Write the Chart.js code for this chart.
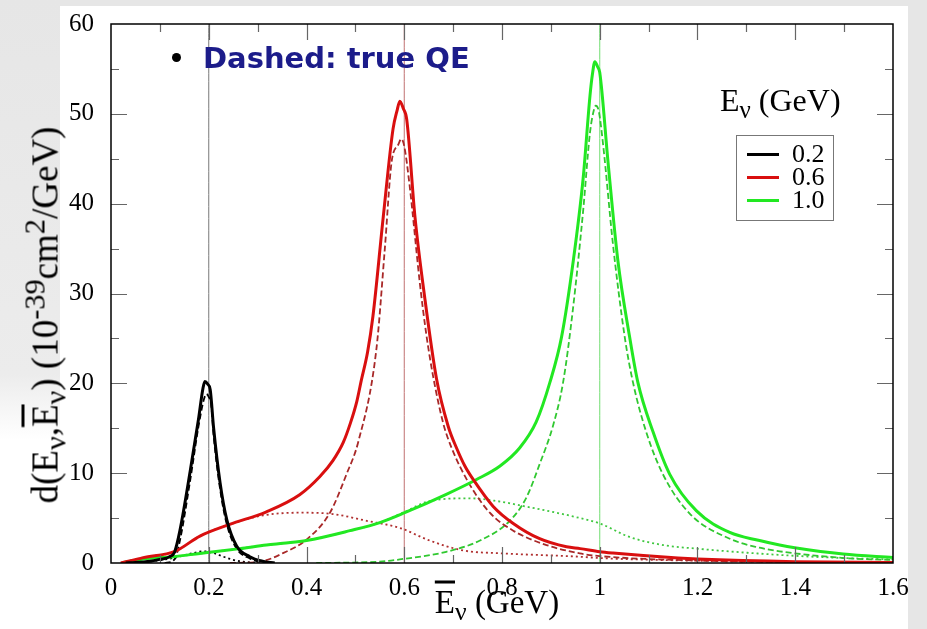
<!DOCTYPE html>
<html>
<head>
<meta charset="utf-8">
<script src="https://cdn.jsdelivr.net/npm/chart.js@4.4.1/dist/chart.umd.min.js"></script>
<style>
  html, body { margin: 0; padding: 0; }
  body { width: 927px; height: 629px; background: #e6e6e6; position: relative; overflow: hidden; font-family: 'Liberation Serif', 'DejaVu Serif', serif; }
  #panel { position: absolute; left: 0; top: 6px; width: 908px; height: 623px; background: #fff; }
  #shade { position: absolute; left: 0; top: 0; width: 60px; height: 440px; background: linear-gradient(to bottom, #e6e6e6 0%, #ececec 85%, #ffffff 100%); }
  #chart { position: absolute; left: 0; top: 0; }
  .txt { position: absolute; white-space: nowrap; color: #000; }
  .ov { text-decoration: overline; }
  sub, sup { font-size: 0.78em; line-height: 0; }
  #ytitle { left: 45px; top: 315px; font-size: 37px; transform: translate(-50%, -50%) rotate(-90deg); }
  #ytitle sub, #ytitle sup { font-size: 0.82em; }
  #xtitle { left: 497px; top: 602px; font-size: 33px; transform: translate(-50%, -50%); }
  #note { left: 172px; top: 41px; font-family: 'DejaVu Sans', sans-serif; font-weight: bold; font-size: 29px; color: #1c1c8a; }
  #note b { display: inline-block; width: 9px; height: 9px; border-radius: 50%; background: #000; margin-right: 22px; vertical-align: middle; position: relative; top: -3px; }
  #legtitle { left: 720px; top: 82px; font-size: 32px; }
  #legend { position: absolute; left: 736px; top: 135px; width: 96px; height: 84px; border: 1px solid #777; background: #fff; }
  .row { position: absolute; left: 0; height: 22px; font-size: 26px; line-height: 22px; }
  .row i { position: absolute; left: 10px; top: 10px; width: 32px; height: 3px; }
  .row span { position: absolute; left: 55px; top: 0; }
</style>
</head>
<body>
<div id="panel"></div>
<div id="shade"></div>
<canvas id="chart" width="927" height="629"></canvas>
<div class="txt" id="note"><b></b>Dashed: true QE</div>
<div class="txt" id="ytitle">d(E<sub>ν</sub>,<span class="ov">E</span><sub>ν</sub>) (10<sup>-39</sup>cm<sup>2</sup>/GeV)</div>
<div class="txt" id="xtitle"><span class="ov">E</span><sub>ν</sub> (GeV)</div>
<div class="txt" id="legtitle">E<sub>ν</sub> (GeV)</div>
<div id="legend"></div>
<script>
// neutrino energies (GeV)
const energies = [0.2, 0.6, 1.0];
const energyLabels = ['0.2', '0.6', '1.0'];

const xTickLabels = ['0', '0.2', '0.4', '0.6', '0.8', '1', '1.2', '1.4', '1.6'];
const yTickLabels = ['0', '10', '20', '30', '40', '50', '60'];

// E = 0.2 GeV
const xBlackSolid = [0.03, 0.05, 0.08, 0.10, 0.12, 0.13, 0.141, 0.162, 0.179, 0.188, 0.192, 0.198, 0.203, 0.21, 0.223, 0.237, 0.257, 0.284, 0.31, 0.335];
const blackSolid  = [0, 0.05, 0.2, 0.4, 0.7, 1.2, 3.6, 10.2, 16, 19.4, 20.2, 19.9, 19.3, 15, 9, 4.8, 1.9, 0.7, 0.2, 0];
const xBlackDashed = [0.11, 0.13, 0.141, 0.162, 0.179, 0.19, 0.195, 0.2, 0.205, 0.21, 0.223, 0.237, 0.257, 0.284, 0.31];
const blackDashed  = [0, 0.4, 2.5, 9.2, 15.2, 18.2, 18.8, 18.5, 17.6, 14.2, 8.3, 4.3, 1.6, 0.5, 0];
const xBlackDotted = [0.05, 0.1, 0.13, 0.16, 0.19, 0.21, 0.23, 0.25, 0.27, 0.30];
const blackDotted  = [0, 0.3, 0.6, 1.0, 1.3, 1.1, 0.7, 0.35, 0.15, 0];

// E = 0.6 GeV
const xRedSolid = [0.02, 0.066, 0.131, 0.182, 0.243, 0.318, 0.386, 0.427, 0.454, 0.475, 0.49, 0.503, 0.512, 0.525, 0.536, 0.557, 0.577, 0.585, 0.591, 0.598, 0.605, 0.622, 0.642, 0.666, 0.69, 0.707, 0.724, 0.741, 0.782, 0.823, 0.877, 0.932, 0.96, 1.0, 1.027, 1.16, 1.2, 1.4, 1.6];
const redSolid  = [0, 0.6, 1.3, 3.0, 4.3, 5.7, 7.6, 9.6, 11.4, 13.4, 15.6, 18, 20.3, 23.5, 27.5, 38.5, 48.3, 50.3, 51.4, 50.6, 49.4, 38.5, 29.5, 20.5, 15.2, 12.8, 10.8, 9.3, 6.3, 4.4, 2.7, 1.8, 1.6, 1.25, 1.1, 0.55, 0.44, 0.15, 0.05];
const xRedDashed = [0.243, 0.305, 0.352, 0.40, 0.448, 0.482, 0.506, 0.543, 0.560, 0.574, 0.588, 0.594, 0.6, 0.611, 0.632, 0.645, 0.659, 0.68, 0.697, 0.731, 0.775, 0.823, 0.891, 0.959, 1.0, 1.2, 1.4, 1.6];
const redDashed  = [0, 0.15, 1.1, 2.6, 5.6, 9.9, 13.5, 23.8, 34.8, 44.6, 46.6, 47.2, 46.4, 42, 31.1, 25.5, 20.8, 15.5, 12.8, 9.0, 5.6, 3.6, 2.0, 1.07, 0.77, 0.27, 0.1, 0.03];
const xRedDotted = [0.02, 0.066, 0.131, 0.182, 0.243, 0.311, 0.386, 0.454, 0.523, 0.591, 0.652, 0.72, 0.802, 0.959, 1.0, 1.2, 1.4, 1.6];
const redDotted  = [0, 0.6, 1.3, 3.0, 4.3, 5.3, 5.6, 5.45, 4.7, 3.9, 2.5, 1.4, 1.07, 0.7, 0.55, 0.25, 0.1, 0.05];

// E = 1.0 GeV
const xGreenSolid = [0.022, 0.066, 0.127, 0.182, 0.202, 0.264, 0.318, 0.352, 0.40, 0.489, 0.55, 0.601, 0.686, 0.748, 0.796, 0.836, 0.87, 0.898, 0.922, 0.946, 0.966, 0.98, 0.985, 0.99, 0.996, 1.0, 1.017, 1.037, 1.061, 1.078, 1.109, 1.143, 1.198, 1.266, 1.327, 1.368, 1.399, 1.498, 1.6];
const greenSolid  = [0, 0.45, 0.7, 1.07, 1.2, 1.6, 2.0, 2.2, 2.5, 3.6, 4.5, 5.6, 7.65, 9.3, 10.8, 12.8, 15.7, 20.1, 25.2, 33.7, 42.8, 52, 54.4, 55.8, 55.2, 54.6, 44.6, 33.7, 25.2, 20.1, 14.6, 9.9, 5.8, 3.4, 2.5, 2.0, 1.7, 1.0, 0.62];
const xGreenDashed = [0.42, 0.55, 0.591, 0.686, 0.755, 0.816, 0.85, 0.877, 0.905, 0.925, 0.945, 0.966, 0.98, 0.987, 0.992, 0.998, 1.007, 1.027, 1.051, 1.068, 1.095, 1.129, 1.184, 1.266, 1.327, 1.368, 1.5, 1.6];
const greenDashed  = [0, 0.15, 0.4, 1.25, 2.5, 4.7, 7.3, 11, 15.4, 20.1, 28.2, 39.2, 47.9, 50.2, 50.9, 50.3, 46.5, 35.5, 25.2, 20.1, 14.6, 9.9, 5.5, 2.7, 1.7, 1.3, 0.55, 0.33];
const xGreenDotted = [0.022, 0.066, 0.127, 0.202, 0.318, 0.40, 0.489, 0.55, 0.601, 0.652, 0.734, 0.789, 0.857, 0.952, 1.0, 1.061, 1.129, 1.198, 1.368, 1.5, 1.6];
const greenDotted  = [0, 0.45, 0.7, 1.2, 2.0, 2.5, 3.6, 4.5, 5.7, 6.9, 7.2, 6.9, 6.2, 5.1, 4.4, 2.9, 2.0, 1.6, 0.9, 0.55, 0.4];

const solidColors  = ['#000000', '#d90f0f', '#22e822'];
const dashedColors = ['#000000', '#a82828', '#30c830'];
const dottedColors = ['#000000', '#b03030', '#40c840'];
const markColors   = ['#777777', '#c07070', '#70dd70'];

function pts(xs, ys) {
  return xs.map((x, i) => ({ x: x, y: ys[i] }));
}

function line(data, color, width, dash) {
  return {
    data: data,
    borderColor: color,
    borderWidth: width,
    borderDash: dash || [],
    pointRadius: 0,
    fill: false,
    cubicInterpolationMode: 'monotone'
  };
}

const datasets = [
  line(pts(xBlackSolid, blackSolid), solidColors[0], 3),
  line(pts(xRedSolid, redSolid), solidColors[1], 3),
  line(pts(xGreenSolid, greenSolid), solidColors[2], 3),
  line(pts(xBlackDashed, blackDashed), dashedColors[0], 1.8, [6, 3]),
  line(pts(xRedDashed, redDashed), dashedColors[1], 1.8, [6, 3]),
  line(pts(xGreenDashed, greenDashed), dashedColors[2], 1.8, [6, 3]),
  line(pts(xBlackDotted, blackDotted), dottedColors[0], 1.8, [2, 3]),
  line(pts(xRedDotted, redDotted), dottedColors[1], 1.8, [2, 3]),
  line(pts(xGreenDotted, greenDotted), dottedColors[2], 1.8, [2, 3])
];
// thin vertical markers at each E_nu
energies.forEach((e, i) => {
  datasets.push(line([{ x: e, y: 0 }, { x: e, y: 60 }], markColors[i], 1));
});

// frame + inward ticks on all four sides
const framePlugin = {
  id: 'frame',
  afterDraw(chart) {
    const ctx = chart.ctx;
    const a = chart.chartArea;
    const xs = chart.scales.x, ys = chart.scales.y;
    ctx.save();
    ctx.strokeStyle = '#666';
    ctx.lineWidth = 1.2;
    ctx.beginPath();
    for (let i = 1; i < 16; i++) {
      const px = Math.round(xs.getPixelForValue(i / 10)) + 0.5;
      const len = i % 2 === 0 ? 16 : 8;
      ctx.moveTo(px, a.bottom); ctx.lineTo(px, a.bottom - len);
      ctx.moveTo(px, a.top); ctx.lineTo(px, a.top + len);
    }
    for (let i = 1; i < 12; i++) {
      const py = Math.round(ys.getPixelForValue(i * 5)) + 0.5;
      const len = i % 2 === 0 ? 16 : 8;
      ctx.moveTo(a.left, py); ctx.lineTo(a.left + len, py);
      ctx.moveTo(a.right, py); ctx.lineTo(a.right - len, py);
    }
    ctx.stroke();
    ctx.strokeStyle = '#000';
    ctx.lineWidth = 1.5;
    ctx.strokeRect(a.left, a.top, a.right - a.left, a.bottom - a.top);
    ctx.restore();
  }
};

const tickFont = { family: "'Liberation Serif', 'DejaVu Serif', serif", size: 25 };

new Chart(document.getElementById('chart'), {
  type: 'line',
  data: { datasets: datasets },
  options: {
    responsive: false,
    animation: false,
    layout: { padding: { left: 20, top: 17, right: 34, bottom: 0 } },
    plugins: { legend: { display: false }, tooltip: { enabled: false } },
    scales: {
      x: {
        type: 'linear', min: 0, max: 1.6,
        grid: { display: false }, border: { display: false },
        ticks: {
          stepSize: 0.2, color: '#000', font: tickFont, padding: 2, maxRotation: 0,
          callback: (v, i) => xTickLabels[i]
        },
        afterFit: s => { s.height = 66; }
      },
      y: {
        min: 0, max: 60,
        grid: { display: false }, border: { display: false },
        ticks: {
          stepSize: 10, color: '#000', font: tickFont, padding: 9,
          callback: (v, i) => yTickLabels[i]
        },
        afterFit: s => { s.width = 91; }
      }
    }
  },
  plugins: [framePlugin]
});

// legend box built from the energy list
const legend = document.getElementById('legend');
energyLabels.forEach((lab, i) => {
  const row = document.createElement('div');
  row.className = 'row';
  row.style.top = (7 + i * 23) + 'px';
  row.innerHTML = '<i style="background:' + solidColors[i] + '"></i><span>' + lab + '</span>';
  legend.appendChild(row);
});
</script>
</body>
</html>
